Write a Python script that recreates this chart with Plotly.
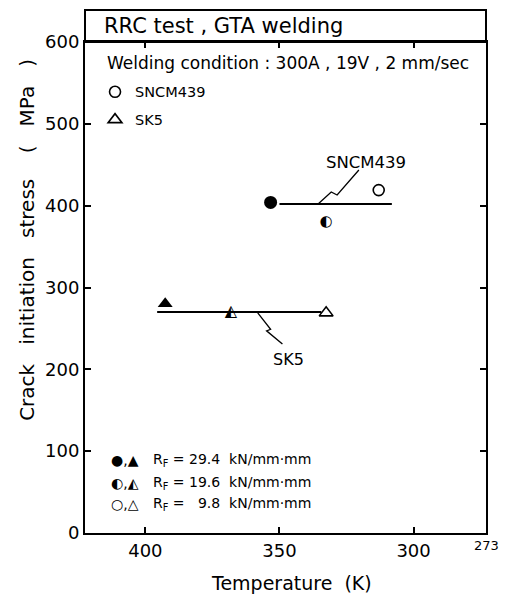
import plotly.graph_objects as go

# ---------------- data ----------------
# SNCM439 points: RF = 29.4, 19.6, 9.8 kN/mm.mm
sncm_T = [353.3, 332.6, 313.0]
sncm_S = [404, 380, 419]
# SK5 points: RF = 29.4, 19.6, 9.8 kN/mm.mm
sk5_T = [392.6, 368.1, 332.6]
sk5_S = [280, 270, 269]
rf_values = ["29.4", "19.6", " 9.8"]

# horizontal level lines
sncm_line_T = [350.0, 308.1]
sncm_line_S = [402, 402]
sk5_line_T = [395.6, 334.4]
sk5_line_S = [270, 270]

# zig-zag leaders to the labels
sncm_lead_T = [335.6, 330.7, 328.5, 320.4]
sncm_lead_S = [402, 416.7, 413, 443.6]
sk5_lead_T = [358.1, 353.3, 354.8, 348.9]
sk5_lead_S = [269, 249, 247, 231]
sncm_label_pos = (317.8, 453)
sk5_label_pos = (346.7, 212)

x_ticks = [400, 350, 300]
y_ticks = [0, 100, 200, 300, 400, 500, 600]
x_range = [422.5, 273]
y_range = [0, 600]

FONT = "DejaVu Sans"
BLACK = "#000000"
NB = "\u00A0"

fig = go.Figure()

# level lines
fig.add_trace(go.Scatter(x=sncm_line_T, y=sncm_line_S, mode="lines",
                         line=dict(color=BLACK, width=2), showlegend=False, hoverinfo="skip"))
fig.add_trace(go.Scatter(x=sk5_line_T, y=sk5_line_S, mode="lines",
                         line=dict(color=BLACK, width=2), showlegend=False, hoverinfo="skip"))
# leaders
fig.add_trace(go.Scatter(x=sncm_lead_T, y=sncm_lead_S, mode="lines",
                         line=dict(color=BLACK, width=1.3), showlegend=False, hoverinfo="skip"))
fig.add_trace(go.Scatter(x=sk5_lead_T, y=sk5_lead_S, mode="lines",
                         line=dict(color=BLACK, width=1.3), showlegend=False, hoverinfo="skip"))

# SNCM439 markers
fig.add_trace(go.Scatter(x=[sncm_T[0]], y=[sncm_S[0]], mode="markers",
                         marker=dict(symbol="circle", size=13, color=BLACK),
                         showlegend=False))
fig.add_trace(go.Scatter(x=[sncm_T[1]], y=[sncm_S[1]], mode="text", text=["\u25D0"],
                         textposition="middle center",
                         textfont=dict(family=FONT, size=15, color=BLACK),
                         showlegend=False))
fig.add_trace(go.Scatter(x=[sncm_T[2]], y=[sncm_S[2]], mode="markers", name="SNCM439",
                         marker=dict(symbol="circle-open", size=11, color=BLACK,
                                     line=dict(width=1.6, color=BLACK)),
                         legendgroup="a"))
# SK5 markers
fig.add_trace(go.Scatter(x=[sk5_T[0]], y=[sk5_S[0]], mode="markers",
                         marker=dict(symbol="triangle-up", size=13, color=BLACK),
                         showlegend=False))
fig.add_trace(go.Scatter(x=[sk5_T[1]], y=[sk5_S[1]], mode="text", text=["\u25ED"],
                         textposition="middle center",
                         textfont=dict(family=FONT, size=16, color=BLACK),
                         showlegend=False))
fig.add_trace(go.Scatter(x=[sk5_T[2]], y=[sk5_S[2]], mode="markers", name="SK5",
                         marker=dict(symbol="triangle-up-open", size=12, color=BLACK,
                                     line=dict(width=1.6, color=BLACK)),
                         legendgroup="b"))

# labels on the curves
fig.add_annotation(x=sncm_label_pos[0], y=sncm_label_pos[1], text="SNCM439", showarrow=False,
                   font=dict(family=FONT, size=16.5, color=BLACK))
fig.add_annotation(x=sk5_label_pos[0], y=sk5_label_pos[1], text="SK5", showarrow=False,
                   font=dict(family=FONT, size=16, color=BLACK))

# header box above plot
fig.add_shape(type="rect", xref="paper", yref="paper", x0=0, x1=1, y0=1, y1=1.065,
              line=dict(color=BLACK, width=2))
fig.add_annotation(xref="paper", yref="paper", x=0.043, y=1.0325, xanchor="left",
                   yanchor="middle", text="RRC test , GTA welding", showarrow=False,
                   font=dict(family=FONT, size=21, color=BLACK))
fig.add_annotation(xref="paper", yref="paper", x=0.05, y=0.957, xanchor="left",
                   yanchor="middle", text="Welding condition : 300A , 19V , 2 mm/sec",
                   showarrow=False, font=dict(family=FONT, size=17, color=BLACK))

# RF key
glyphs = ["\u25CF,\u25B2", "\u25D0,\u25ED", "\u25CB,\u25B3"]
key_y = [0.149, 0.102, 0.059]
for g, v, yy in zip(glyphs, rf_values, key_y):
    fig.add_annotation(xref="paper", yref="paper", x=0.06, y=yy, xanchor="left",
                       yanchor="middle", text=g, showarrow=False,
                       font=dict(family=FONT, size=14, color=BLACK))
    fig.add_annotation(xref="paper", yref="paper", x=0.165, y=yy, xanchor="left",
                       yanchor="middle",
                       text="R<sub>F</sub> = " + v.replace(" ", "\u2007") + NB * 2 + "kN/mm\u00B7mm",
                       showarrow=False, font=dict(family=FONT, size=14, color=BLACK))

# 273 label at right end
fig.add_annotation(x=273, y=0, yref="y", text="273", showarrow=False, yanchor="top",
                   yshift=-3, font=dict(family=FONT, size=13, color=BLACK))

# axis titles
fig.add_annotation(xref="paper", yref="paper", x=0.516, y=0, yanchor="middle",
                   yshift=-50, text="Temperature" + NB * 2 + "(K)", showarrow=False,
                   font=dict(family=FONT, size=19, color=BLACK))
ytitle = ("Crack" + NB * 3 + "initiation" + NB * 3 + "stress" + NB * 4 + "(" + NB * 3
          + "MPa" + NB * 3 + ")")
fig.add_annotation(xref="paper", yref="paper", x=0, y=0.597, xanchor="center",
                   xshift=-58, textangle=-90, text=ytitle, showarrow=False,
                   font=dict(family=FONT, size=20, color=BLACK))

# page body has an 8px margin: figure is sized so the plot lands where the reference has it
fig.update_layout(
    width=499, height=591,
    margin=dict(l=77, r=21, t=34, b=66),
    paper_bgcolor="white", plot_bgcolor="white",
    font=dict(family=FONT, color=BLACK),
    legend=dict(x=0.025, y=0.931, xanchor="left", yanchor="top",
                font=dict(family=FONT, size=14.5, color=BLACK),
                bgcolor="rgba(0,0,0,0)", tracegroupgap=6),
    xaxis=dict(range=x_range, tickvals=x_ticks, showgrid=False, zeroline=False,
               showline=True, linecolor=BLACK, linewidth=2, mirror="ticks",
               ticks="inside", ticklen=6, tickwidth=1.5, tickcolor=BLACK,
               tickfont=dict(family=FONT, size=18, color=BLACK)),
    yaxis=dict(range=y_range, tickvals=y_ticks, showgrid=False, zeroline=False,
               showline=True, linecolor=BLACK, linewidth=2, mirror="ticks",
               ticks="inside", ticklen=6, tickwidth=1.5, tickcolor=BLACK,
               tickfont=dict(family=FONT, size=18, color=BLACK)),
)

fig.write_html("out.html")
